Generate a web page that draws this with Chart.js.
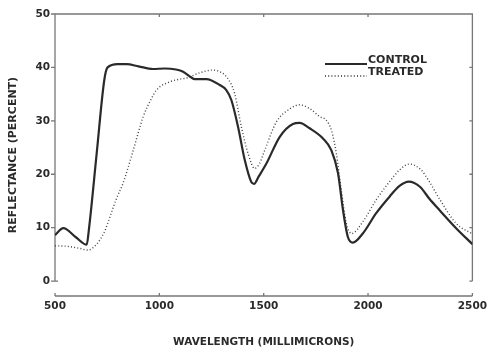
<!DOCTYPE html>
<html>
<head>
<meta charset="utf-8">
<script src="https://cdn.jsdelivr.net/npm/chart.js@4.4.1/dist/chart.umd.min.js"></script>
<style>
  html, body { margin: 0; padding: 0; background: #fff; }
  #wrap { width: 491px; height: 353px; }
</style>
</head>
<body>
<div id="wrap"><canvas id="reflChart" width="491" height="353"></canvas></div>
<script>
// wavelength (millimicrons) and reflectance (percent)
const controlX = [500, 540, 600, 652, 662, 700, 736, 752, 800, 843, 900, 969, 1026, 1080, 1114, 1150, 1170, 1226, 1289, 1320, 1345, 1377, 1409, 1440, 1454, 1475, 1513, 1577, 1640, 1672, 1720, 1784, 1824, 1856, 1880, 1903, 1927, 1975, 2039, 2103, 2151, 2195, 2250, 2294, 2342, 2422, 2500];
const controlY = [8.6, 9.9, 8.2, 6.8, 9.5, 24, 37.6, 40.0, 40.6, 40.6, 40.2, 39.7, 39.8, 39.6, 39.2, 38.2, 37.8, 37.8, 36.7, 35.8, 33.9, 28.9, 22.7, 18.6, 18.2, 19.5, 22, 27, 29.4, 29.6, 28.6, 26.7, 24.5, 20.2, 13.3, 8.3, 7.2, 8.9, 12.7, 15.8, 17.8, 18.6, 17.6, 15.4, 13.3, 9.9, 6.9];

const treatedX = [500, 560, 620, 658, 690, 715, 740, 763, 795, 826, 875, 923, 960, 987, 1050, 1098, 1130, 1194, 1257, 1300, 1321, 1345, 1361, 1393, 1425, 1457, 1480, 1505, 1561, 1624, 1672, 1720, 1768, 1800, 1824, 1848, 1872, 1896, 1922, 1975, 2039, 2103, 2151, 2199, 2254, 2294, 2342, 2422, 2500];
const treatedY = [6.6, 6.5, 6.1, 5.8, 6.5, 7.7, 9.5, 12, 15.5, 18.3, 24.5, 30.8, 34, 35.8, 37.3, 37.8, 38, 39, 39.5, 39, 38.3, 36.8, 35.1, 28.9, 23.9, 21.1, 22, 24.5, 29.8, 32.2, 33, 32.3, 30.8, 30.1, 28.3, 23.9, 17, 10.8, 8.9, 11.1, 15.2, 18.6, 20.8, 21.9, 20.8, 18.6, 15.4, 10.8, 8.8];

const xTicks = [500, 1000, 1500, 2000, 2500];
const yTicks = [0, 10, 20, 30, 40, 50];
const seriesNames = ['CONTROL', 'TREATED'];

const inkColor = '#2a2a2a';
const axisColor = '#777';
const fontFamily = '"DejaVu Sans", sans-serif';

function toPoints(xs, ys) {
    return xs.map((x, i) => ({ x: x, y: ys[i] }));
}

// draws the frame (axis lines with small ticks) and the legend
const framePlugin = {
    id: 'frame',
    beforeDatasetsDraw(chart) {
        const ctx = chart.ctx;
        const xs = chart.scales.x;
        const ys = chart.scales.y;
        const area = chart.chartArea;
        const y0 = ys.getPixelForValue(0);
        const y50 = ys.getPixelForValue(50);
        ctx.save();
        ctx.strokeStyle = axisColor;
        ctx.lineWidth = 1.3;
        ctx.beginPath();
        // left, top, right
        ctx.moveTo(area.left, y0);
        ctx.lineTo(area.left, y50);
        ctx.lineTo(area.right, y50);
        ctx.lineTo(area.right, y0);
        // bottom axis
        ctx.moveTo(area.left, area.bottom);
        ctx.lineTo(area.right, area.bottom);
        yTicks.forEach(v => {
            const py = ys.getPixelForValue(v);
            ctx.moveTo(area.left - 4, py);
            ctx.lineTo(area.left, py);
            ctx.moveTo(area.right, py);
            ctx.lineTo(area.right - 3, py);
        });
        ctx.moveTo(area.left, y0);
        ctx.lineTo(area.left + 3, y0);
        xTicks.forEach(v => {
            const px = xs.getPixelForValue(v);
            ctx.moveTo(px, area.bottom);
            ctx.lineTo(px, area.bottom - 3);
            if (v > 500 && v < 2500) {
                ctx.moveTo(px, y50);
                ctx.lineTo(px, y50 + 3);
            }
        });
        ctx.stroke();
        ctx.restore();
    },
    afterDatasetsDraw(chart) {
        const ctx = chart.ctx;
        const area = chart.chartArea;
        const lx = area.left + 270;
        const ly = area.top + 50;
        ctx.save();
        ctx.font = 'bold 11px ' + fontFamily;
        ctx.fillStyle = inkColor;
        ctx.textBaseline = 'bottom';
        ctx.textAlign = 'left';
        ctx.fillText(seriesNames[0], lx + 43, ly + 2);
        ctx.fillText(seriesNames[1], lx + 43, ly + 14);
        ctx.strokeStyle = inkColor;
        ctx.lineWidth = 2;
        ctx.beginPath();
        ctx.moveTo(lx, ly);
        ctx.lineTo(lx + 42, ly);
        ctx.stroke();
        ctx.lineWidth = 1.4;
        ctx.setLineDash([1, 2.2]);
        ctx.beginPath();
        ctx.moveTo(lx, ly + 12);
        ctx.lineTo(lx + 42, ly + 12);
        ctx.stroke();
        ctx.restore();
    }
};

const ctx = document.getElementById('reflChart').getContext('2d');
new Chart(ctx, {
    type: 'line',
    data: {
        datasets: [{
            label: seriesNames[0],
            data: toPoints(controlX, controlY),
            borderColor: inkColor,
            borderWidth: 2.2,
            pointRadius: 0,
            fill: false,
            cubicInterpolationMode: 'monotone'
        }, {
            label: seriesNames[1],
            data: toPoints(treatedX, treatedY),
            borderColor: '#444',
            borderWidth: 1.4,
            borderDash: [1, 2.2],
            pointRadius: 0,
            fill: false,
            cubicInterpolationMode: 'monotone'
        }]
    },
    options: {
        responsive: false,
        animation: false,
        layout: { padding: { top: 14, right: 18, left: 0, bottom: 0 } },
        plugins: {
            legend: { display: false },
            tooltip: { enabled: false }
        },
        scales: {
            x: {
                type: 'linear',
                min: 500,
                max: 2500,
                afterBuildTicks: scale => { scale.ticks = xTicks.map(v => ({ value: v })); },
                afterFit: scale => { scale.height = 57; },
                grid: { display: false, drawTicks: false },
                border: { display: false },
                ticks: {
                    color: inkColor,
                    padding: 4,
                    maxRotation: 0,
                    autoSkip: false,
                    callback: v => String(v),
                    font: { family: fontFamily, size: 10.5, weight: 'bold' }
                },
                title: {
                    display: true,
                    text: 'WAVELENGTH (MILLIMICRONS)',
                    color: inkColor,
                    padding: { top: 4, bottom: 4 },
                    font: { family: fontFamily, size: 10.5, weight: 'bold' }
                }
            },
            y: {
                type: 'linear',
                min: -2.8,
                max: 50,
                afterBuildTicks: scale => { scale.ticks = yTicks.map(v => ({ value: v })); },
                afterFit: scale => { scale.width = 55; },
                grid: { display: false, drawTicks: false },
                border: { display: false },
                ticks: {
                    color: inkColor,
                    padding: 5,
                    callback: v => String(v),
                    font: { family: fontFamily, size: 10.5, weight: 'bold' }
                },
                title: {
                    display: true,
                    text: 'REFLECTANCE (PERCENT)',
                    color: inkColor,
                    padding: { top: 7, bottom: 4 },
                    font: { family: fontFamily, size: 11, weight: 'bold' }
                }
            }
        }
    },
    plugins: [framePlugin]
});
</script>
</body>
</html>
